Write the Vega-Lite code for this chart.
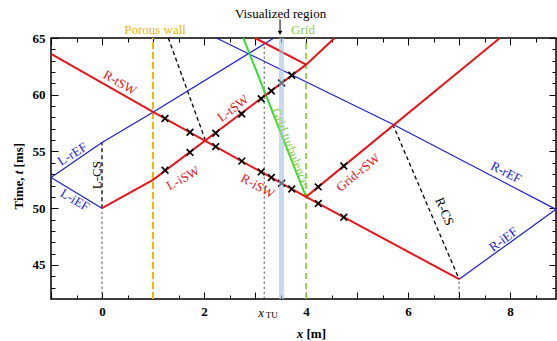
{
  "$schema": "https://vega.github.io/schema/vega-lite/v6.json",
  "width": 505,
  "height": 261,
  "autosize": "none",
  "padding": {"left": 51, "top": 38, "right": 1, "bottom": 42},
  "background": "white",
  "config": {
    "view": {"stroke": "black", "strokeWidth": 1.5},
    "axis": {"domain": false, "grid": false, "tickColor": "black", "tickWidth": 1, "labelFont": "Liberation Serif", "labelFontWeight": "bold", "labelFontSize": 13, "labelColor": "black", "labelOverlap": false, "labelFlush": false},
    "text": {"font": "Liberation Serif", "fontSize": 13, "baseline": "middle", "align": "center"}
  },
  "datasets": {
    "sw": [
      {"id": "L", "o": 1, "x": 0, "t": 50}, {"id": "L", "o": 2, "x": 1, "t": 52.5}, {"id": "L", "o": 3, "x": 4, "t": 62.65}, {"id": "L", "o": 4, "x": 4.56, "t": 65},
      {"id": "Lr", "o": 1, "x": 4, "t": 62.65}, {"id": "Lr", "o": 2, "x": 3.0, "t": 65},
      {"id": "R", "o": 1, "x": 7, "t": 43.75}, {"id": "R", "o": 2, "x": 4, "t": 51.0}, {"id": "R", "o": 3, "x": 1, "t": 58.5}, {"id": "R", "o": 4, "x": -1, "t": 63.6},
      {"id": "G", "o": 1, "x": 4, "t": 51.0}, {"id": "G", "o": 2, "x": 7.8, "t": 65}
    ],
    "ef": [
      {"id": "Li", "o": 1, "x": 0, "t": 50}, {"id": "Li", "o": 2, "x": -1, "t": 52.7},
      {"id": "Lr", "o": 1, "x": -1, "t": 52.7}, {"id": "Lr", "o": 2, "x": 0, "t": 55.8}, {"id": "Lr", "o": 3, "x": 1, "t": 58.45}, {"id": "Lr", "o": 4, "x": 3.37, "t": 65},
      {"id": "D", "o": 1, "x": 2.24, "t": 65}, {"id": "D", "o": 2, "x": 5.7, "t": 57.4}, {"id": "D", "o": 3, "x": 8.9, "t": 49.9},
      {"id": "Ri", "o": 1, "x": 7, "t": 43.75}, {"id": "Ri", "o": 2, "x": 8.9, "t": 49.9}
    ],
    "gt": [{"id": "GT", "o": 1, "x": 2.77, "t": 65}, {"id": "GT", "o": 2, "x": 4, "t": 51.0}],
    "cs": [
      {"id": "L", "o": 1, "x": 0, "t": 50}, {"id": "L", "o": 2, "x": 0, "t": 55.8},
      {"id": "M", "o": 1, "x": 1.3, "t": 65}, {"id": "M", "o": 2, "x": 2.03, "t": 55.94},
      {"id": "R", "o": 1, "x": 5.7, "t": 57.4}, {"id": "R", "o": 2, "x": 7, "t": 43.75}
    ],
    "marks": [
      {"x": 1.235, "t": 53.35}, {"x": 1.725, "t": 54.92}, {"x": 2.23, "t": 56.6}, {"x": 2.74, "t": 58.3}, {"x": 3.12, "t": 59.65}, {"x": 3.32, "t": 60.33}, {"x": 3.52, "t": 61.04}, {"x": 3.72, "t": 61.72},
      {"x": 1.235, "t": 57.91}, {"x": 1.725, "t": 56.69}, {"x": 2.23, "t": 55.43}, {"x": 2.74, "t": 54.15}, {"x": 3.12, "t": 53.2}, {"x": 3.32, "t": 52.7}, {"x": 3.52, "t": 52.2}, {"x": 3.72, "t": 51.7},
      {"x": 4.24, "t": 50.42}, {"x": 4.74, "t": 49.21},
      {"x": 4.24, "t": 51.88}, {"x": 4.74, "t": 53.72}
    ]
  },
  "resolve": {"axis": {"x": "independent", "y": "independent"}},
  "encoding": {
    "x": {"field": "x", "type": "quantitative", "scale": {"domain": [-1, 8.9], "nice": false, "zero": false}, "axis": null},
    "y": {"field": "t", "type": "quantitative", "scale": {"domain": [42, 65], "nice": false, "zero": false}, "axis": null}
  },
  "layer": [
    {
      "data": {"values": [{"x": 1, "t": 42, "t2": 65}]},
      "mark": {"type": "rule", "color": "#f5b400", "strokeWidth": 2, "strokeDash": [7, 3]},
      "encoding": {"y2": {"field": "t2"}}
    },
    {
      "data": {"values": [{"x": 4, "t": 42, "t2": 65}]},
      "mark": {"type": "rule", "color": "#8ccf4a", "strokeWidth": 1.8, "strokeDash": [6, 4]},
      "encoding": {"y2": {"field": "t2"}}
    },
    {
      "data": {"values": [{"x": 0, "t": 42, "t2": 50}, {"x": 7, "t": 42, "t2": 43.75}, {"x": 3.18, "t": 42, "t2": 65}]},
      "mark": {"type": "rule", "color": "#333333", "strokeWidth": 0.8, "strokeDash": [2.5, 2.5]},
      "encoding": {"y2": {"field": "t2"}}
    },
    {
      "data": {"name": "cs"},
      "mark": {"type": "line", "color": "black", "strokeWidth": 1.3, "strokeDash": [4, 3]},
      "encoding": {
        "x": {"field": "x", "type": "quantitative", "scale": {"domain": [-1, 8.9], "nice": false, "zero": false}, "axis": {"orient": "top", "values": [-0.5, 0.5, 1.5, 2.5, 3.5, 4.5, 5.5, 6.5, 7.5, 8.5], "tickSize": -4, "labels": false, "title": null}},
        "y": {"field": "t", "type": "quantitative", "scale": {"domain": [42, 65], "nice": false, "zero": false}, "axis": {"orient": "right", "values": [43, 44, 46, 47, 48, 49, 51, 52, 53, 54, 56, 57, 58, 59, 61, 62, 63, 64], "tickSize": -4, "labels": false, "title": null}},
        "detail": {"field": "id"}, "order": {"field": "o"}
      }
    },
    {
      "data": {"name": "ef"},
      "mark": {"type": "line", "color": "#1c1ce0", "strokeWidth": 1.2},
      "encoding": {
        "x": {"field": "x", "type": "quantitative", "scale": {"domain": [-1, 8.9], "nice": false, "zero": false}, "axis": {"orient": "bottom", "values": [-0.5, 0.5, 1.5, 2.5, 3.5, 4.5, 5.5, 6.5, 7.5, 8.5], "tickSize": -4, "labels": false, "title": null}},
        "y": {"field": "t", "type": "quantitative", "scale": {"domain": [42, 65], "nice": false, "zero": false}, "axis": {"orient": "left", "values": [43, 44, 46, 47, 48, 49, 51, 52, 53, 54, 56, 57, 58, 59, 61, 62, 63, 64], "tickSize": -4, "labels": false, "title": null}},
        "detail": {"field": "id"}, "order": {"field": "o"}
      }
    },
    {
      "data": {"name": "gt"},
      "mark": {"type": "line", "color": "#2ee02e", "strokeWidth": 2},
      "encoding": {
        "x": {"field": "x", "type": "quantitative", "scale": {"domain": [-1, 8.9], "nice": false, "zero": false}, "axis": {"orient": "top", "values": [-1, 0, 1, 2, 3, 4, 5, 6, 7, 8], "tickSize": -7, "labels": false, "title": null}},
        "y": {"field": "t", "type": "quantitative", "scale": {"domain": [42, 65], "nice": false, "zero": false}, "axis": {"orient": "right", "values": [45, 50, 55, 60, 65], "tickSize": -7, "labels": false, "title": null}},
        "detail": {"field": "id"}, "order": {"field": "o"}
      }
    },
    {
      "data": {"name": "sw"},
      "mark": {"type": "line", "color": "#e8151b", "strokeWidth": 2},
      "encoding": {
        "x": {"field": "x", "type": "quantitative", "scale": {"domain": [-1, 8.9], "nice": false, "zero": false}, "axis": {"orient": "bottom", "values": [-1, 0, 1, 2, 3, 4, 5, 6, 7, 8], "tickSize": -7, "labelPadding": 13, "labelExpr": "datum.value % 2 === 0 ? datum.label : ''", "title": null}},
        "y": {"field": "t", "type": "quantitative", "scale": {"domain": [42, 65], "nice": false, "zero": false}, "axis": {"orient": "left", "values": [45, 50, 55, 60, 65], "tickSize": -7, "labelPadding": 13, "title": null}},
        "detail": {"field": "id"}, "order": {"field": "o"}
      }
    },
    {
      "data": {"name": "marks"},
      "mark": {"type": "point", "shape": "M-1,-1L1,1M-1,1L1,-1", "filled": false, "stroke": "black", "strokeWidth": 1.7, "size": 45, "opacity": 1}
    },
    {
      "data": {"values": [{"x": 3.47, "x2": 3.57, "t": 42, "t2": 65}]},
      "mark": {"type": "rect", "color": "#a3c1e3", "opacity": 0.6},
      "encoding": {"x2": {"field": "x2"}, "y2": {"field": "t2"}}
    },
    {
      "data": {"values": [{"x": 3.49, "t": 66.64, "t2": 65.5}]},
      "mark": {"type": "rule", "color": "black", "strokeWidth": 1},
      "encoding": {"y2": {"field": "t2"}}
    },
    {
      "data": {"values": [{"x": 3.49, "t": 65.45}]},
      "mark": {"type": "point", "shape": "triangle-down", "filled": true, "color": "black", "size": 22, "opacity": 1}
    },
    {"data": {"values": [{"x": 1.04, "t": 65.74, "label": "Porous wall"}]}, "mark": {"type": "text", "color": "#f5b400"}, "encoding": {"text": {"field": "label"}}},
    {"data": {"values": [{"x": 3.94, "t": 65.74, "label": "Grid"}]}, "mark": {"type": "text", "color": "#8ccf4a"}, "encoding": {"text": {"field": "label"}}},
    {"data": {"values": [{"x": 3.5, "t": 67.15, "label": "Visualized region"}]}, "mark": {"type": "text", "color": "black"}, "encoding": {"text": {"field": "label"}}},
    {"data": {"values": [{"x": 0.35, "t": 61.04, "label": "R-tSW"}]}, "mark": {"type": "text", "color": "#e8151b", "angle": 30}, "encoding": {"text": {"field": "label"}}},
    {"data": {"values": [{"x": -0.58, "t": 54.76, "label": "L-rEF"}]}, "mark": {"type": "text", "color": "#1c1ce0", "angle": -32}, "encoding": {"text": {"field": "label"}}},
    {"data": {"values": [{"x": -0.1, "t": 52.91, "label": "L-CS"}]}, "mark": {"type": "text", "color": "black", "angle": -90}, "encoding": {"text": {"field": "label"}}},
    {"data": {"values": [{"x": -0.53, "t": 50.71, "label": "L-iEF"}]}, "mark": {"type": "text", "color": "#1c1ce0", "angle": 31}, "encoding": {"text": {"field": "label"}}},
    {"data": {"values": [{"x": 1.59, "t": 52.62, "label": "L-iSW"}]}, "mark": {"type": "text", "color": "#e8151b", "angle": -29}, "encoding": {"text": {"field": "label"}}},
    {"data": {"values": [{"x": 2.57, "t": 58.79, "label": "L-tSW"}]}, "mark": {"type": "text", "color": "#e8151b", "angle": -37}, "encoding": {"text": {"field": "label"}}},
    {"data": {"values": [{"x": 3.05, "t": 51.95, "label": "R-iSW"}]}, "mark": {"type": "text", "color": "#e8151b", "angle": 29}, "encoding": {"text": {"field": "label"}}},
    {"data": {"values": [{"x": 3.69, "t": 55.4, "label": "Grid turbulence"}]}, "mark": {"type": "text", "color": "#8ccf4a", "angle": 68.5}, "encoding": {"text": {"field": "label"}}},
    {"data": {"values": [{"x": 5.02, "t": 53.13, "label": "Grid-rSW"}]}, "mark": {"type": "text", "color": "#e8151b", "angle": -39}, "encoding": {"text": {"field": "label"}}},
    {"data": {"values": [{"x": 6.71, "t": 49.71, "label": "R-CS"}]}, "mark": {"type": "text", "color": "black", "angle": 67}, "encoding": {"text": {"field": "label"}}},
    {"data": {"values": [{"x": 7.92, "t": 53.14, "label": "R-rEF"}]}, "mark": {"type": "text", "color": "#1c1ce0", "angle": 27}, "encoding": {"text": {"field": "label"}}},
    {"data": {"values": [{"x": 7.87, "t": 47.25, "label": "R-iEF"}]}, "mark": {"type": "text", "color": "#1c1ce0", "angle": -36}, "encoding": {"text": {"field": "label"}}},
    {"data": {"values": [{"x": 3.12, "t": 40.8, "label": "x"}]}, "mark": {"type": "text", "color": "black", "fontStyle": "italic"}, "encoding": {"text": {"field": "label"}}},
    {"data": {"values": [{"x": 3.33, "t": 40.55, "label": "TU"}]}, "mark": {"type": "text", "color": "black", "fontSize": 9}, "encoding": {"text": {"field": "label"}}},
    {"data": {"values": [{"x": 3.88, "t": 38.94, "label": "x"}]}, "mark": {"type": "text", "color": "black", "fontStyle": "italic", "fontWeight": "bold"}, "encoding": {"text": {"field": "label"}}},
    {"data": {"values": [{"x": 4.2, "t": 38.94, "label": "[m]"}]}, "mark": {"type": "text", "color": "black", "fontWeight": "bold"}, "encoding": {"text": {"field": "label"}}},
    {"data": {"values": [{"x": -1.63, "t": 51.3, "label": "Time,"}]}, "mark": {"type": "text", "color": "black", "fontWeight": "bold", "angle": -90}, "encoding": {"text": {"field": "label"}}},
    {"data": {"values": [{"x": -1.63, "t": 53.16, "label": "t"}]}, "mark": {"type": "text", "color": "black", "fontWeight": "bold", "fontStyle": "italic", "angle": -90}, "encoding": {"text": {"field": "label"}}},
    {"data": {"values": [{"x": -1.63, "t": 54.68, "label": "[ms]"}]}, "mark": {"type": "text", "color": "black", "fontWeight": "bold", "angle": -90}, "encoding": {"text": {"field": "label"}}}
  ]
}
